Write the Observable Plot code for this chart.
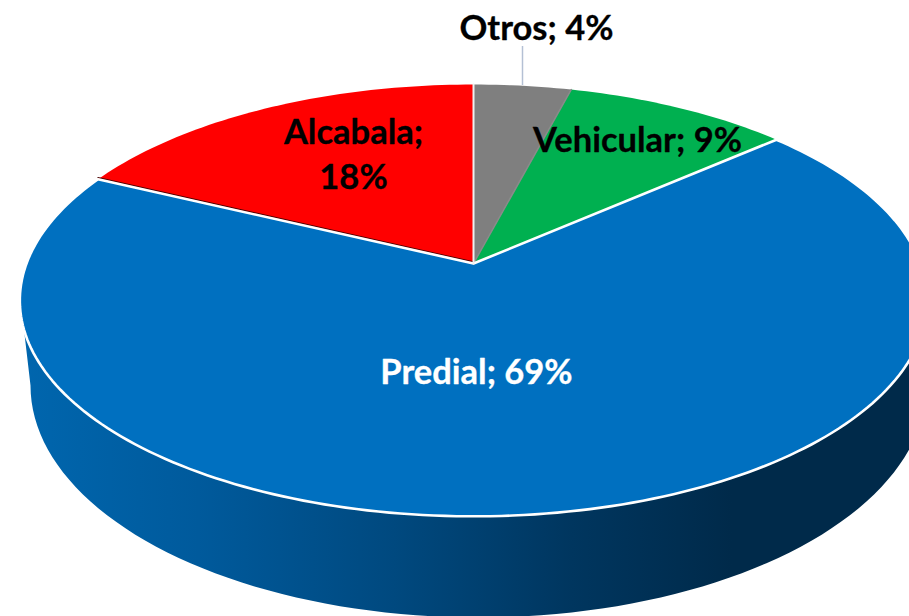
<!DOCTYPE html>
<html><head><meta charset="utf-8">
<style>html,body{margin:0;padding:0;background:#fff;overflow:hidden}</style>
<script src="https://cdn.jsdelivr.net/npm/d3@7"></script>
<script src="https://cdn.jsdelivr.net/npm/@observablehq/plot@0.6"></script>
</head><body><div id="chart"></div>
<script>
// Data, clockwise from twelve o'clock
const names  = ["Otros", "Vehicular", "Predial", "Alcabala"];
const shares = [4.1, 9.49, 68.51, 17.9];
const colors = ["#7F7F7F", "#00B050", "#0070C0", "#FF0000"];
const labelLines = [["Otros; 4%"], ["Vehicular; 9%"], ["Predial; 69%"], ["Alcabala;", "18%"]];
const labelInk   = ["#000", "#000", "#fff", "#000"];

// Perspective of the pie disc
const persp = 0.171;
const project = (a, r = 1) => {
  const c = r * Math.cos(a), w = 1 + persp * c;
  return {x: r * Math.sin(a) / w, y: c / w};
};
// Layout of the picture
const W = 909, H = 616, cx = 473, cy = 263, ax = 447, ay = 209.6;
const ux = px => (px - cx) / ax, uy = py => (cy - py) / ay;

let acc = 0;
const slices = [], edges = [];
names.forEach((name, i) => {
  const a0 = acc / 100 * 2 * Math.PI; acc += shares[i];
  const a1 = acc / 100 * 2 * Math.PI;
  const n = Math.ceil(shares[i] * 3);
  slices.push({name, ...project(0, 0)});
  d3.range(n + 1).forEach(k => slices.push({name, ...project(a0 + (a1 - a0) * k / n)}));
  slices.push({name, ...project(0, 0)});
  edges.push({name, a0, a1});
});

// Side wall: front half of the lower rim, joined to the disc's widest points
const rimCx = ux(478), rimCy = uy(385), rimRx = 448 / ax, rimRy = 232 / ay;
const wall = d3.range(0, 181, 2).map(t => {
  const a = Math.PI * (1 + t / 180);
  return {x: rimCx + rimRx * Math.cos(a), y: rimCy + rimRy * Math.sin(a)};
});
wall.unshift({x: ux(23), y: uy(325)});
wall.push({x: ux(925), y: uy(325)});

const wallStops = [[0, "#0066AE"], [0.2, "#005A9C"], [0.42, "#00497F"], [0.62, "#00365F"], [0.8, "#002A4A"], [1, "#002A4A"]];
const gradient = () => {
  const defs = d3.create("svg:defs");
  const g = defs.append("linearGradient").attr("id", "wallShade")
    .attr("gradientUnits", "userSpaceOnUse").attr("x1", 20).attr("x2", 909).attr("y1", 0).attr("y2", 0);
  wallStops.forEach(([o, c]) => g.append("stop").attr("offset", o).attr("stop-color", c));
  return defs.node();
};

const predial = slices.filter(d => d.name === "Predial");
const alcabala = edges[3];
const boundary = [project(0, 0), project(alcabala.a0)];
const divider = [project(0, 0), project(edges[1].a0)];
const topLine = [project(0, 0), project(0)];

const labelAt = [[536, 28], [637, 140], [476, 372], [353, 132]];
const labels = labelLines.flatMap((lines, i) => lines.map((text, j) => ({
  text, ink: labelInk[i], x: ux(labelAt[i][0]), y: uy(labelAt[i][1] + j * 45)
})));
const fontSize = 34.5;

const chart = Plot.plot({
  width: W, height: H, margin: 0,
  style: {background: "#fff", fontFamily: "Lato, sans-serif"},
  x: {domain: [-1, 1], range: [cx - ax, cx + ax], axis: null},
  y: {domain: [-1, 1], range: [cy + ay, cy - ay], axis: null},
  color: {domain: names, range: colors},
  marks: [
    gradient,
    Plot.line(wall, {x: "x", y: "y", fill: "url(#wallShade)", stroke: "none", clip: "frame"}),
    Plot.line(slices, {x: "x", y: "y", z: "name", fill: "name", stroke: "none", clip: "frame"}),
    Plot.line(divider, {x: "x", y: "y", stroke: "#8a8a8a", strokeWidth: 1.5}),
    Plot.line(boundary, {x: "x", y: "y", stroke: "#4a0000", strokeWidth: 1.2, dy: -1.6}),
    Plot.line(predial, {x: "x", y: "y", stroke: "#fff", strokeWidth: 2.6, clip: "frame"}),
    Plot.line(topLine, {x: "x", y: "y", stroke: "#f0f0f0", strokeWidth: 2}),
    Plot.ruleX([ux(522)], {y1: uy(46), y2: uy(85), stroke: "#B4C0D4", strokeWidth: 1.5}),
    Plot.text(labels, {x: "x", y: "y", text: "text", fill: "ink", stroke: "ink", strokeWidth: 0.3, fontSize, fontWeight: 700, textAnchor: "middle", lineAnchor: "middle"})
  ]
});
document.getElementById("chart").append(chart);
</script></body></html>
